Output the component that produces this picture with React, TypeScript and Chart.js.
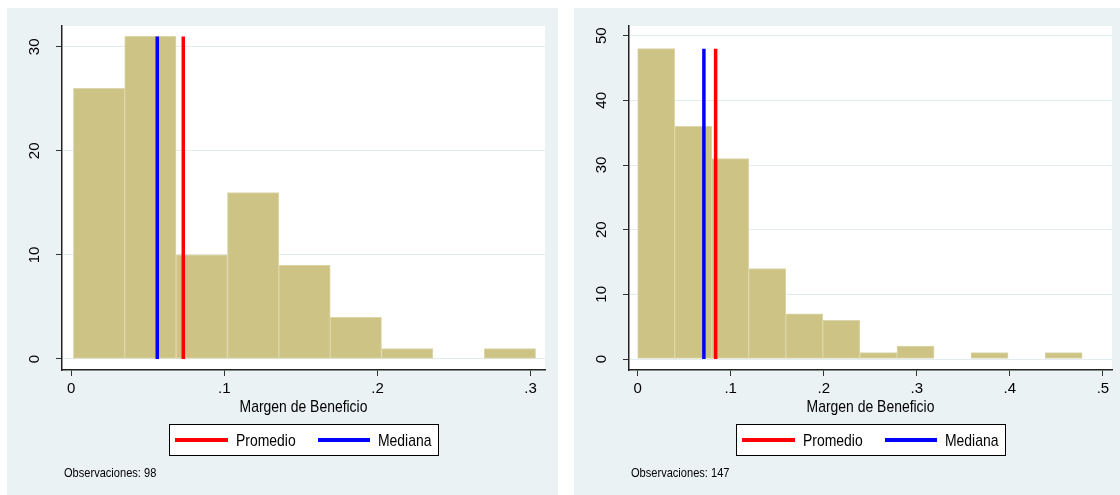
import React, { useEffect, useRef } from 'react';
import { Chart, registerables } from 'chart.js';

Chart.register(...registerables);

// ---------- DATA ----------
// Left panel (98 observations)
const leftBinCenters = [0.0182, 0.0517, 0.0853, 0.1188, 0.1524, 0.1859, 0.2194, 0.253, 0.2865];
const leftCounts = [26, 31, 10, 16, 9, 4, 1, 0, 1];
const leftMean = 0.0732;
const leftMedian = 0.0562;
const leftXTicks = [0, 0.1, 0.2, 0.3];
const leftXTickLabels = ['0', '.1', '.2', '.3'];
const leftYTicks = [0, 10, 20, 30];
const leftXRange = [-0.006, 0.3094];
const leftYRange = [-1.06, 32.0];
const leftNote = 'Observaciones: 98';

// Right panel (147 observations)
const rightBinCenters = [0.0199, 0.0597, 0.0995, 0.1393, 0.1791, 0.2189, 0.2588, 0.2986, 0.3384, 0.3782, 0.418, 0.4578];
const rightCounts = [48, 36, 31, 14, 7, 6, 1, 2, 0, 1, 0, 1];
const rightMean = 0.0838;
const rightMedian = 0.0712;
const rightXTicks = [0, 0.1, 0.2, 0.3, 0.4, 0.5];
const rightXTickLabels = ['0', '.1', '.2', '.3', '.4', '.5'];
const rightYTicks = [0, 10, 20, 30, 40, 50];
const rightXRange = [-0.0093, 0.5098];
const rightYRange = [-1.7, 51.5];
const rightNote = 'Observaciones: 147';

const xAxisTitle = 'Margen de Beneficio';
const legendLabels = ['Promedio', 'Mediana'];

// ---------- STYLE ----------
const BG = '#EAF2F3';
const BAR_FILL = 'rgb(204,195,133)';
const BAR_EDGE = 'rgb(220,214,170)';
const RED = '#FF0000';
const BLUE = '#0000FF';
const FAM = "'Liberation Sans', Arial, sans-serif";
const NARROW = 0.82;

type Panel = {
  centers: number[];
  counts: number[];
  mean: number;
  median: number;
  xTicks: number[];
  xTickLabels: string[];
  yTicks: number[];
  xRange: number[];
  yRange: number[];
  note: string;
};

const panels: Panel[] = [
  {
    centers: leftBinCenters, counts: leftCounts, mean: leftMean, median: leftMedian,
    xTicks: leftXTicks, xTickLabels: leftXTickLabels, yTicks: leftYTicks,
    xRange: leftXRange, yRange: leftYRange, note: leftNote,
  },
  {
    centers: rightBinCenters, counts: rightCounts, mean: rightMean, median: rightMedian,
    xTicks: rightXTicks, xTickLabels: rightXTickLabels, yTicks: rightYTicks,
    xRange: rightXRange, yRange: rightYRange, note: rightNote,
  },
];

function narrowText(ctx: CanvasRenderingContext2D, text: string, x: number, y: number, size: number, align: CanvasTextAlign) {
  ctx.save();
  ctx.font = `${size}px ${FAM}`;
  ctx.textAlign = align;
  ctx.textBaseline = 'middle';
  ctx.fillStyle = '#000';
  ctx.translate(x, y);
  ctx.scale(NARROW, 1);
  ctx.fillText(text, 0, 0);
  ctx.restore();
}

function makeChart(canvas: HTMLCanvasElement, p: Panel) {
  const top = Math.max(...p.counts);

  const decor = {
    id: 'stataDecor',
    beforeDraw(chart: any) {
      const { ctx, chartArea: a, width, height } = chart;
      ctx.save();
      ctx.fillStyle = BG;
      ctx.fillRect(0, 0, width, height);
      ctx.fillStyle = '#FFFFFF';
      ctx.fillRect(a.left, a.top, a.right - a.left, a.bottom - a.top);
      ctx.restore();
    },
    afterDraw(chart: any) {
      const { ctx, chartArea: a } = chart;
      const cx = (a.left + a.right) / 2;
      // axis title
      narrowText(ctx, xAxisTitle, cx, a.bottom + 37, 17, 'center');
      // legend box
      const bw = 270, bh = 32;
      const bx = Math.round(cx - bw / 2);
      const by = Math.round(a.bottom + 54);
      const ly = by + bh / 2;
      ctx.save();
      ctx.fillStyle = '#FFFFFF';
      ctx.fillRect(bx, by, bw, bh);
      ctx.strokeStyle = '#000';
      ctx.lineWidth = 1;
      ctx.strokeRect(bx + 0.5, by + 0.5, bw - 1, bh - 1);
      ctx.lineWidth = 4;
      ctx.strokeStyle = RED;
      ctx.beginPath();
      ctx.moveTo(bx + 6, ly);
      ctx.lineTo(bx + 59, ly);
      ctx.stroke();
      ctx.strokeStyle = BLUE;
      ctx.beginPath();
      ctx.moveTo(bx + 149, ly);
      ctx.lineTo(bx + 201, ly);
      ctx.stroke();
      ctx.restore();
      narrowText(ctx, legendLabels[0], bx + 67, ly + 1, 17, 'left');
      narrowText(ctx, legendLabels[1], bx + 209, ly + 1, 17, 'left');
      // note
      narrowText(ctx, p.note, a.left + 2, a.bottom + 103, 13.5, 'left');
    },
  };

  return new Chart(canvas, {
    type: 'bar',
    data: {
      datasets: [
        {
          type: 'line',
          label: legendLabels[0],
          data: [{ x: p.mean, y: 0 }, { x: p.mean, y: top }],
          borderColor: RED,
          borderWidth: 3.5,
          pointRadius: 0,
          fill: false,
          order: 0,
        } as any,
        {
          type: 'line',
          label: legendLabels[1],
          data: [{ x: p.median, y: 0 }, { x: p.median, y: top }],
          borderColor: BLUE,
          borderWidth: 3.5,
          pointRadius: 0,
          fill: false,
          order: 0,
        } as any,
        {
          type: 'bar',
          label: 'Frecuencia',
          data: p.centers.map((c, i) => ({ x: c, y: p.counts[i] })),
          backgroundColor: BAR_FILL,
          borderColor: BAR_EDGE,
          borderWidth: 1,
          borderSkipped: false,
          barPercentage: 1,
          categoryPercentage: 1,
          order: 1,
        } as any,
      ],
    },
    options: {
      animation: false,
      responsive: false,
      maintainAspectRatio: false,
      devicePixelRatio: 1,
      layout: { padding: { left: 0, top: 18, right: 13, bottom: 0 } },
      plugins: { legend: { display: false }, tooltip: { enabled: false } },
      events: [],
      scales: {
        x: {
          type: 'linear',
          min: p.xRange[0],
          max: p.xRange[1],
          offset: false,
          afterBuildTicks: (s: any) => { s.ticks = p.xTicks.map((v) => ({ value: v })); },
          afterFit: (s: any) => { s.height = 125; s.paddingLeft = 0; s.paddingRight = 0; },
          ticks: {
            autoSkip: false,
            maxRotation: 0,
            minRotation: 0,
            padding: 4.3,
            color: '#000',
            font: { family: FAM, size: 15 },
            callback: (_v: any, i: number) => p.xTickLabels[i],
          },
          grid: { offset: false, drawOnChartArea: false, drawTicks: true, tickLength: 6, tickColor: '#333', tickWidth: 1 },
          border: { display: true, color: '#222', width: 1.5 },
        },
        y: {
          type: 'linear',
          min: p.yRange[0],
          max: p.yRange[1],
          afterBuildTicks: (s: any) => { s.ticks = p.yTicks.map((v) => ({ value: v })); },
          afterFit: (s: any) => { s.width = 55; s.paddingTop = 0; s.paddingBottom = 0; },
          ticks: {
            autoSkip: false,
            minRotation: 90,
            maxRotation: 90,
            crossAlign: 'center',
            padding: 12.6,
            color: '#000',
            font: { family: FAM, size: 15 },
            callback: (v: any) => String(v),
          },
          grid: { color: '#E3ECEE', lineWidth: 1, drawTicks: true, tickLength: 6, tickColor: '#333', tickWidth: 1 },
          border: { display: true, color: '#222', width: 1.5 },
        },
      },
    },
    plugins: [decor],
  } as any);
}

function PanelChart({ panel, left }: { panel: Panel; left: number }) {
  const ref = useRef<HTMLCanvasElement | null>(null);
  useEffect(() => {
    if (!ref.current) return;
    const chart = makeChart(ref.current, panel);
    return () => chart.destroy();
  }, [panel]);
  return (
    <canvas
      ref={ref}
      width={551}
      height={487}
      style={{ position: 'absolute', left, top: 8, width: 551, height: 487, display: 'block' }}
    />
  );
}

export default function App() {
  return (
    <div
      style={{
        position: 'fixed', left: 0, top: 0, width: 1120, height: 495,
        overflow: 'hidden', background: '#FFFFFF',
      }}
    >
      <PanelChart panel={panels[0]} left={7} />
      <PanelChart panel={panels[1]} left={574} />
    </div>
  );
}
